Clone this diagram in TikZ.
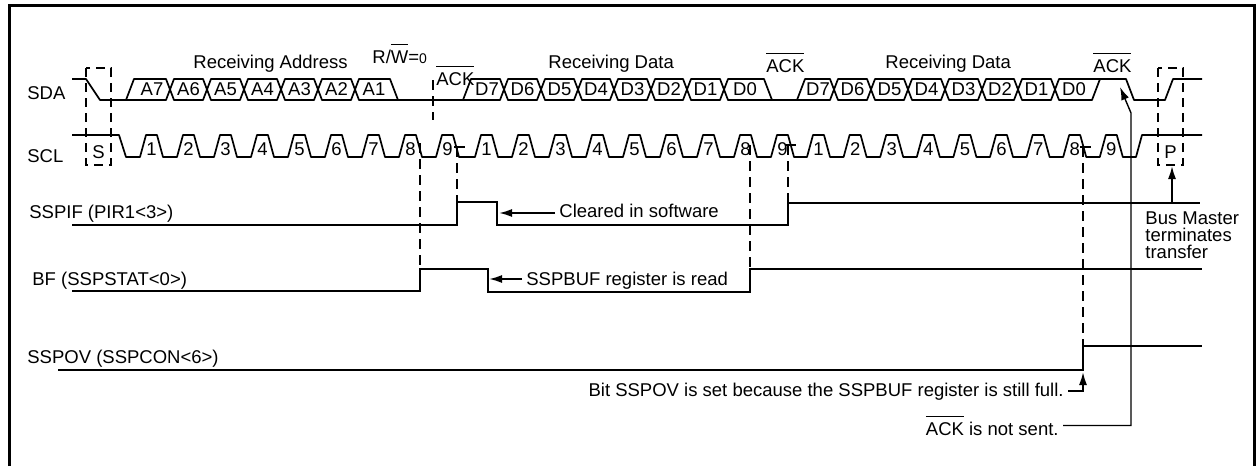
\documentclass[tikz,border=0pt]{standalone}
\usepackage{fontspec}
\setmainfont{Liberation Sans}
\usetikzlibrary{arrows.meta}
\newcommand\olbar[1]{\setbox0\hbox{#1}\rlap{\rule[8.9pt]{\wd0}{0.65pt}}\box0\relax}
\begin{document}
\begin{tikzpicture}[x=0.5pt,y=-0.5pt,
  wave/.style={line width=0.85pt, line join=round},
  sig/.style={line width=1.35pt},
  dashline/.style={line width=1.15pt, dash pattern=on 5pt off 3pt},
  dashbox/.style={line width=1.15pt, dash pattern=on 4.5pt off 3pt},
  lab/.style={inner sep=0pt, font=\fontsize{9.25pt}{8.5pt}\selectfont},
  arr/.style={line width=0.9pt, -{Latex[length=6.5pt,width=4pt]}},
  thinarr/.style={line width=0.7pt, -{Latex[length=6.5pt,width=4pt]}},
  outerframe/.style={line width=1.5pt}]
\useasboundingbox (0,0) rectangle (1258,466);
% frame
\draw[outerframe] (9,466) -- (9,5) -- (1254,5) -- (1254,466);

% signal names
\node[lab, anchor=base west] (sda) at (27,99) {SDA};
\node[lab, anchor=base west] (scl) at (27,162) {SCL};
\node[lab, anchor=base west] (sspif) at (29,218) {SSPIF (PIR1<3>)};
\node[lab, anchor=base west] (bf) at (32,285) {BF (SSPSTAT<0>)};
\node[lab, anchor=base west] (sspov) at (27,363) {SSPOV (SSPCON<6>)};

% headings
\node[lab, anchor=base west] (recaddr) at (193,68) {Receiving Address};
\node[lab, anchor=base west] (rw) at (372,63) {R/\olbar{W}={\fontsize{7pt}{7pt}\selectfont 0}};
\node[lab, anchor=base west] (ackA) at (436,85) {\olbar{ACK}};
\node[lab, anchor=base west] (recdA) at (548,68) {Receiving Data};
\node[lab, anchor=base west] (ackB) at (766,72) {\olbar{ACK}};
\node[lab, anchor=base west] (recdB) at (885,68) {Receiving Data};
\node[lab, anchor=base west] (ackC) at (1093,72) {\olbar{ACK}};

% ---------- SDA ----------
\draw[wave] (72,79) -- (86,79) -- (100,100) -- (126,100);
% byte 1
\draw[wave] (126,100) -- (134,79) -- (166,79) -- (170,89.5) -- (166,100) -- cycle;
\node[lab, anchor=base] (a7) at (152,95.5) {A7};
\foreach \a/\b/\t in {170/207/A6, 207/244/A5, 244/281/A4, 281/318/A3, 318/355/A2}{
  \draw[wave] (\a,89.5) -- (\a+4,79) -- (\b-4,79) -- (\b,89.5) -- (\b-4,100) -- (\a+4,100) -- cycle;
  \node[lab, anchor=base] (cell\t) at ({(\a+\b)/2},95.5) {\t};
}
\draw[wave] (355,89.5) -- (359,79) -- (390,79) -- (398,100) -- (359,100) -- cycle;
\node[lab, anchor=base] (a1) at (374,95.5) {A1};
\draw[wave] (398,100) -- (463,100);
% byte 2
\draw[wave] (463,100) -- (471,79) -- (500,79) -- (504,89.5) -- (500,100) -- cycle;
\node[lab, anchor=base] (bd7) at (487,95.5) {D7};
\foreach \a/\b/\t in {504/541/6, 541/578/5, 578/614/4, 614/651/3, 651/687/2, 687/724/1}{
  \draw[wave] (\a,89.5) -- (\a+4,79) -- (\b-4,79) -- (\b,89.5) -- (\b-4,100) -- (\a+4,100) -- cycle;
  \node[lab, anchor=base] (bd\t) at ({(\a+\b)/2},95.5) {D\t};
}
\draw[wave] (724,89.5) -- (728,79) -- (764,79) -- (772,100) -- (728,100) -- cycle;
\node[lab, anchor=base] (bd0) at (745,95.5) {D0};
\draw[wave] (772,100) -- (797,100);
% byte 3
\draw[wave] (797,100) -- (805,79) -- (830,79) -- (834,89.5) -- (830,100) -- cycle;
\node[lab, anchor=base] (cd7) at (818,95.5) {D7};
\foreach \a/\b/\t in {834/871/6, 871/908/5, 908/945/4, 945/982/3, 982/1018/2, 1018/1055/1}{
  \draw[wave] (\a,89.5) -- (\a+4,79) -- (\b-4,79) -- (\b,89.5) -- (\b-4,100) -- (\a+4,100) -- cycle;
  \node[lab, anchor=base] (cd\t) at ({(\a+\b)/2},95.5) {D\t};
}
\draw[wave] (1055,89.5) -- (1059,100) -- (1092,100) -- (1100,79);
\draw[wave] (1055,89.5) -- (1059,79) -- (1126,79) -- (1134,100) -- (1165,100) -- (1173,79) -- (1202,79);
\node[lab, anchor=base] (cd0) at (1074,95.5) {D0};

% ---------- SCL ----------
\draw[wave] (72,135) -- (119,135) -- (126,157) -- (140,157)
  \foreach \x in {140,177,214,251,288,325,362,399,436,
                  475,512,549,586,623,660,697,734,771,
                  807,843.6,880.2,916.8,953.4,990,1026.6,1063.2,1099.8}{
    -- (\x,157) -- (\x+6,135) -- (\x+17,135) -- (\x+23,157)}
  -- (1136,157) -- (1142,135) -- (1202,135);
\foreach \x [count=\k] in {140,177,214,251,288,325,362,399,436}
  \node[lab, anchor=base west] (pa\k) at (\x+6,155) {\k};
\foreach \x [count=\k] in {475,512,549,586,623,660,697,734,771}
  \node[lab, anchor=base west] (pb\k) at (\x+6,155) {\k};
\foreach \x [count=\k] in {807,843.6,880.2,916.8,953.4,990,1026.6,1063.2,1099.8}
  \node[lab, anchor=base west] (pc\k) at (\x+6,155) {\k};

% start / stop boxes
\draw[dashbox] (86,68) rectangle (111,165);
\node[lab, anchor=base] (slab) at (98.5,158) {S};
\draw[dashbox] (1158,68) rectangle (1183,165);
\node[lab, anchor=base] (plab) at (1170.5,158) {P};

% ---------- SSPIF / BF / SSPOV ----------
\draw[sig] (72,225) -- (457,225) -- (457,202) -- (497,202) -- (497,225) -- (788,225) -- (788,203) -- (1200,203);
\draw[sig] (72,291) -- (420,291) -- (420,269) -- (488,269) -- (488,292) -- (750,292) -- (750,269) -- (1202,269);
\draw[sig] (58,370) -- (1083,370) -- (1083,346) -- (1202,346);

% ---------- dashed markers ----------
\draw[dashline] (420,143) -- (420,269);
\draw[dashline] (433,80) -- (433,120);
\draw[dashline] (457,147) -- (457,202);
\draw[wave] (454,147) -- (465,147);
\draw[dashline] (750,145) -- (750,269);
\draw[dashline] (788,145) -- (788,203);
\draw[wave] (785,145) -- (796,145);
\draw[dashline] (1083,147) -- (1083,346);
\draw[wave] (1080,147) -- (1091,147);

% ---------- annotations ----------
\node[lab, anchor=base west, inner xsep=2pt] (clr) at (555,217) {Cleared in software};
\coordinate (clrtip) at (499,213);
\draw[arr] (clr.west |- clrtip) -- (clrtip);

\node[lab, anchor=base west, inner xsep=2pt] (rd) at (522,285) {SSPBUF register is read};
\coordinate (rdtip) at (489,279);
\draw[arr] (rd.west |- rdtip) -- (rdtip);

\node[lab, anchor=north west, align=left] (bm) at (1145,211.5) {Bus Master\\terminates\\transfer};
\coordinate (pfoot) at (1172,202);
\coordinate (ptip) at (1172,166);
\draw[arr] (pfoot) -- (ptip);

\node[lab, anchor=base east, inner xsep=2pt] (bit) at (1068,396) {Bit SSPOV is set because the SSPBUF register is still full.};
\coordinate (ovtip) at (1083,372);
\draw[arr] (bit.east) -| (ovtip);

\node[lab, anchor=base east, inner xsep=2pt] (nsent) at (1063,435) {\olbar{ACK} is not sent.};
\coordinate (ackturn) at (1131,113);
\coordinate (acktip) at (1120,87);
\draw[thinarr] (nsent.east) -| (ackturn) -- (acktip);
\end{tikzpicture}
\end{document}
